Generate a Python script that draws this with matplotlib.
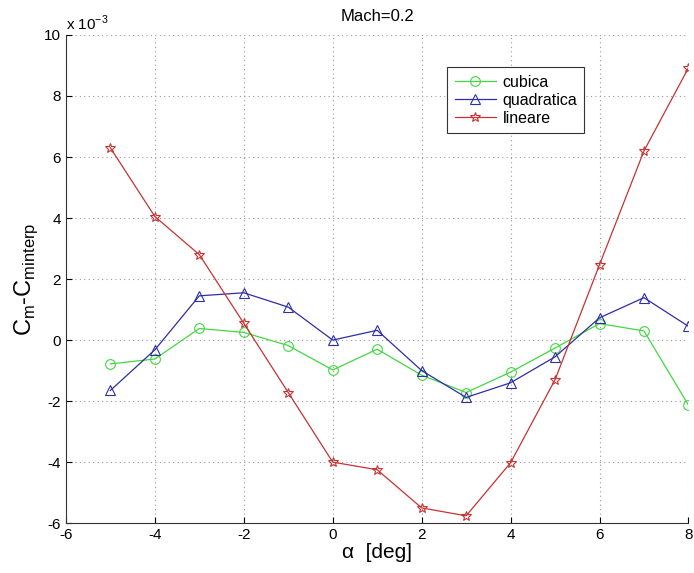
import matplotlib
matplotlib.use("Agg")
import matplotlib.pyplot as plt

# ---------------- DATA ---------------- #

alpha = [-5, -4, -3, -2, -1, 0, 1, 2, 3, 4, 5, 6, 7, 8]

# values in units of 1e-3
cubica = [-0.78, -0.62, 0.38, 0.25, -0.18, -0.98, -0.30, -1.15, -1.72, -1.05, -0.26, 0.54, 0.30, -2.13]
quadratica = [-1.65, -0.32, 1.45, 1.55, 1.08, 0.00, 0.32, -1.00, -1.88, -1.40, -0.55, 0.73, 1.39, 0.45]
lineare = [6.30, 4.05, 2.80, 0.55, -1.72, -4.00, -4.25, -5.50, -5.76, -4.02, -1.30, 2.47, 6.20, 8.92]

xticks = [-6, -4, -2, 0, 2, 4, 6, 8]
yticks = [-6, -4, -2, 0, 2, 4, 6, 8, 10]

# ---------------- PLOT ---------------- #

plt.rcParams["font.family"] = ["Liberation Sans", "DejaVu Sans"]
plt.rcParams["axes.unicode_minus"] = False
plt.rcParams["mathtext.fontset"] = "custom"
plt.rcParams["mathtext.rm"] = "Liberation Sans"

fig = plt.figure(figsize=(6.94, 5.73), dpi=100)
ax = fig.add_axes([0.095, 0.087, 0.897, 0.852])

ax.plot(alpha, cubica, color="#44d644", lw=0.9, marker="o",
        markersize=7, markerfacecolor="none", markeredgewidth=0.8, label="cubica")
ax.plot(alpha, quadratica, color="#2e2ea6", lw=0.9, marker="^",
        markersize=7.5, markerfacecolor="none", markeredgewidth=0.8, label="quadratica")
ax.plot(alpha, lineare, color="#c83232", lw=0.9, marker="*",
        markersize=7, markerfacecolor="none", markeredgewidth=0.8, label="lineare")

ax.set_xlim(-6, 8)
ax.set_ylim(-6, 10)
ax.set_xticks(xticks)
ax.set_yticks(yticks)
ax.tick_params(direction="in", labelsize=11, length=4, top=False, right=False)

ax.grid(True, linestyle=(0, (1, 3)), color="#999999", linewidth=0.8)
ax.spines["top"].set_visible(False)
ax.spines["right"].set_visible(False)
for s in ax.spines.values():
    s.set_linewidth(0.8)
    s.set_color("#333333")

ax.text(0.0, 1.005, r"x 10$^{\mathregular{-3}}$", transform=ax.transAxes,
        fontsize=11, ha="left", va="bottom")

ax.set_title("Mach=0.2", fontsize=12, pad=10)
ax.set_xlabel("α  [deg]", fontsize=15, labelpad=1)
ax.set_ylabel(r"C$_\mathregular{m}$-C$_\mathregular{minterp}$", fontsize=17, labelpad=3)

leg = ax.legend(loc="upper left", bbox_to_anchor=(0.6, 0.95), fontsize=11.5,
                fancybox=False, framealpha=1, edgecolor="#333333",
                handlelength=2.6, handletextpad=0.4, borderpad=0.45,
                labelspacing=0.2)
leg.get_frame().set_linewidth(0.8)

fig.savefig("out.png", dpi=100)
